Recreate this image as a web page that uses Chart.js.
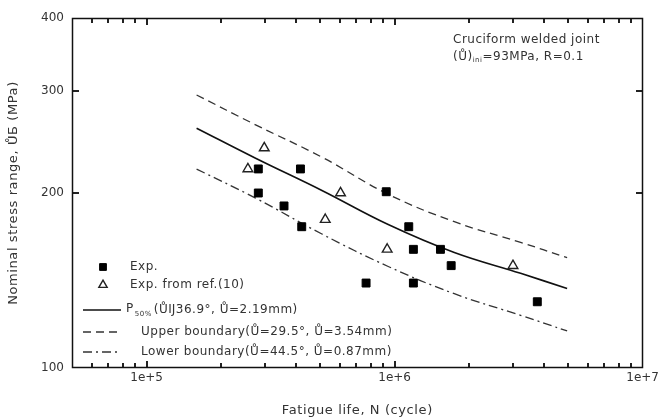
<!DOCTYPE html>
<html>
<head>
<meta charset="utf-8">
<script src="https://cdn.jsdelivr.net/npm/chart.js@4.4.1/dist/chart.umd.min.js"></script>
<style>
  html, body { margin: 0; padding: 0; background: #fff; }
</style>
</head>
<body>
<canvas id="c" width="662" height="420"></canvas>
<script>
// data
const nExp = [2.82e5, 4.17e5, 2.82e5, 3.58e5, 4.22e5, 9.25e5, 1.14e6, 1.19e6, 1.53e6, 1.69e6, 7.67e5, 1.19e6, 3.76e6];
const sExp = [220, 220, 200, 190, 175, 201, 175, 160, 160, 150, 140, 140, 130];

const nRef = [2.56e5, 2.98e5, 6.05e5, 5.25e5, 9.33e5, 3.0e6];
const sRef = [220, 239, 200, 180, 160, 150];

const nCurve = [1.59e5, 2.75e5, 5.09e5, 9.42e5, 1.74e6, 3.22e6, 4.96e6];
const sP50   = [258.5, 229.5, 202.0, 176.5, 158.0, 145.5, 137.0];
const sUpper = [294.9, 262.0, 230.5, 199.0, 178.5, 164.5, 154.8];
const sLower = [219.9, 196.0, 170.0, 149.5, 134.2, 123.2, 115.8];

const xTicks = [1e5, 1e6, 1e7];
const xTickLabels = ['1e+5', '1e+6', '1e+7'];
const yTicks = [100, 200, 300, 400];
const yTickLabels = ['100', '200', '300', '400'];

const FONT = '"DejaVu Sans", sans-serif';
const INK = '#111';
const TXT = '#333';

const pts = (xs, ys) => xs.map((v, i) => ({ x: v, y: ys[i] }));

// minor tick values for the log x axis
const xMinor = [];
[1e4, 1e5, 1e6].forEach(d => { for (let k = 2; k <= 9; k++) xMinor.push(k * d); });

// frame, inward ticks, titles, annotation and legend
const decor = {
  id: 'decor',
  afterDraw(chart) {
    const { ctx, chartArea: a } = chart;
    const xs = chart.scales.x, ys = chart.scales.y;
    const L = Math.round(a.left), R = Math.round(a.right);
    const T = Math.round(a.top), B = Math.round(a.bottom);
    ctx.save();
    ctx.fillStyle = '#222';
    xMinor.forEach(v => {
      const px = Math.round(xs.getPixelForValue(v));
      if (px <= L + 2 || px >= R - 2) return;
      ctx.fillRect(px - 1, B - 5, 2, 5);
      ctx.fillRect(px - 1, T, 2, 5);
    });
    xTicks.forEach(v => {
      const px = Math.round(xs.getPixelForValue(v));
      if (px >= R - 2) return;
      ctx.fillRect(px - 1, B - 7, 2, 7);
      ctx.fillRect(px - 1, T, 2, 7);
    });
    yTicks.forEach(v => {
      const py = Math.round(ys.getPixelForValue(v));
      if (py <= T + 2 || py >= B - 2) return;
      ctx.fillRect(L, py - 1, 7, 2);
      ctx.fillRect(R - 7, py - 1, 7, 2);
    });
    ctx.strokeStyle = INK;
    ctx.lineWidth = 1.5;
    ctx.strokeRect(L + 0.5, T + 0.5, R - L - 1, B - T - 1);

    // axis titles
    ctx.fillStyle = TXT;
    ctx.font = '13px ' + FONT;
    ctx.letterSpacing = '0.6px';
    ctx.textAlign = 'center';
    ctx.textBaseline = 'middle';
    ctx.fillText('Fatigue life, N (cycle)', (a.left + a.right) / 2, 411);
    ctx.save();
    ctx.translate(14, (a.top + a.bottom) / 2);
    ctx.rotate(-Math.PI / 2);
    ctx.fillText('Nominal stress range, ŮƂ (MPa)', 0, 0);
    ctx.restore();

    // annotation
    ctx.textAlign = 'left';
    ctx.font = '12px ' + FONT;
    ctx.letterSpacing = '0.5px';
    ctx.fillText('Cruciform welded joint', 453, 40);
    let tx = 453;
    ctx.fillText('(Ů)', tx, 57);
    tx += ctx.measureText('(Ů)').width;
    ctx.font = '7px ' + FONT;
    ctx.fillText('ini', tx, 60);
    tx += ctx.measureText('ini').width;
    ctx.font = '12px ' + FONT;
    ctx.fillText('=93MPa, R=0.1', tx, 57);

    // legend
    const ds = chart.data.datasets;
    const markX = 103, lineX0 = 83, lineX1 = 121;
    const rows = [
      { d: ds[0], yy: 267, tx: 130, label: 'Exp.' },
      { d: ds[1], yy: 285, tx: 130, label: 'Exp. from ref.(10)' },
      { d: ds[2], yy: 310, tx: 126, label: null },
      { d: ds[3], yy: 332, tx: 141, label: 'Upper boundary(Ů=29.5°, Ů=3.54mm)' },
      { d: ds[4], yy: 352, tx: 141, label: 'Lower boundary(Ů=44.5°, Ů=0.87mm)' }
    ];
    rows.forEach(r => {
      if (r.d.showLine) {
        ctx.save();
        ctx.strokeStyle = r.d.borderColor;
        ctx.lineWidth = r.d.borderWidth;
        ctx.setLineDash(r.d.borderDash || []);
        ctx.beginPath();
        ctx.moveTo(lineX0, r.yy); ctx.lineTo(lineX1, r.yy);
        ctx.stroke();
        ctx.restore();
      } else {
        ctx.save();
        ctx.fillStyle = r.d.backgroundColor;
        ctx.strokeStyle = r.d.borderColor;
        ctx.lineWidth = r.d.borderWidth;
        Chart.helpers.drawPoint(ctx, {
          pointStyle: r.d.pointStyle, radius: r.d.pointRadius - 0.8,
          borderWidth: r.d.borderWidth, rotation: 0
        }, markX, r.yy);
        ctx.restore();
      }
      ctx.fillStyle = TXT;
      ctx.font = '12px ' + FONT;
      if (r.label) {
        ctx.fillText(r.label, r.tx, r.yy);
      } else {
        let px = r.tx;
        ctx.fillText('P', px, r.yy - 1);
        px += ctx.measureText('P').width + 1;
        ctx.font = '7px ' + FONT;
        ctx.fillText('50%', px, r.yy + 4);
        px += ctx.measureText('50%').width + 2;
        ctx.font = '12px ' + FONT;
        ctx.fillText('(ŮĲ36.9°, Ů=2.19mm)', px, r.yy);
      }
    });
    ctx.restore();
  }
};

new Chart(document.getElementById('c'), {
  type: 'scatter',
  data: {
    datasets: [
      {
        label: 'Exp.', data: pts(nExp, sExp),
        pointStyle: 'rect', pointRadius: 5.6, pointHoverRadius: 5.6,
        backgroundColor: '#000', borderColor: '#000', borderWidth: 1
      },
      {
        label: 'Exp. from ref.(10)', data: pts(nRef, sRef),
        pointStyle: 'triangle', pointRadius: 5.6, pointHoverRadius: 5.6,
        backgroundColor: 'rgba(0,0,0,0)', borderColor: '#222', borderWidth: 1.4
      },
      {
        label: 'P50%', data: pts(nCurve, sP50), showLine: true,
        pointRadius: 0, borderColor: '#111', borderWidth: 1.6, tension: 0.4
      },
      {
        label: 'Upper boundary', data: pts(nCurve, sUpper), showLine: true,
        pointRadius: 0, borderColor: '#333', borderWidth: 1.3, borderDash: [8, 5], tension: 0.4
      },
      {
        label: 'Lower boundary', data: pts(nCurve, sLower), showLine: true,
        pointRadius: 0, borderColor: '#333', borderWidth: 1.3, borderDash: [9, 4, 2, 4], tension: 0.4
      }
    ]
  },
  options: {
    responsive: false,
    animation: false,
    layout: { padding: { top: 18, right: 16, left: 0, bottom: 0 } },
    plugins: { legend: { display: false }, tooltip: { enabled: false } },
    scales: {
      x: {
        type: 'logarithmic', min: 5e4, max: 1e7,
        grid: { display: false, drawTicks: false },
        border: { display: false },
        afterBuildTicks: s => { s.ticks = xTicks.map(v => ({ value: v })); },
        afterFit: s => { s.height = 52; },
        ticks: {
          padding: 3, color: TXT, font: { family: FONT, size: 12 },
          maxRotation: 0, autoSkip: false,
          callback: v => xTickLabels[xTicks.indexOf(v)]
        }
      },
      y: {
        type: 'logarithmic', min: 100, max: 400,
        grid: { display: false, drawTicks: false },
        border: { display: false },
        afterBuildTicks: s => { s.ticks = yTicks.map(v => ({ value: v })); },
        afterFit: s => { s.width = 72; },
        ticks: {
          padding: 8, color: TXT, font: { family: FONT, size: 12 },
          autoSkip: false,
          callback: v => yTickLabels[yTicks.indexOf(v)]
        }
      }
    }
  },
  plugins: [decor]
});
</script>
</body>
</html>
